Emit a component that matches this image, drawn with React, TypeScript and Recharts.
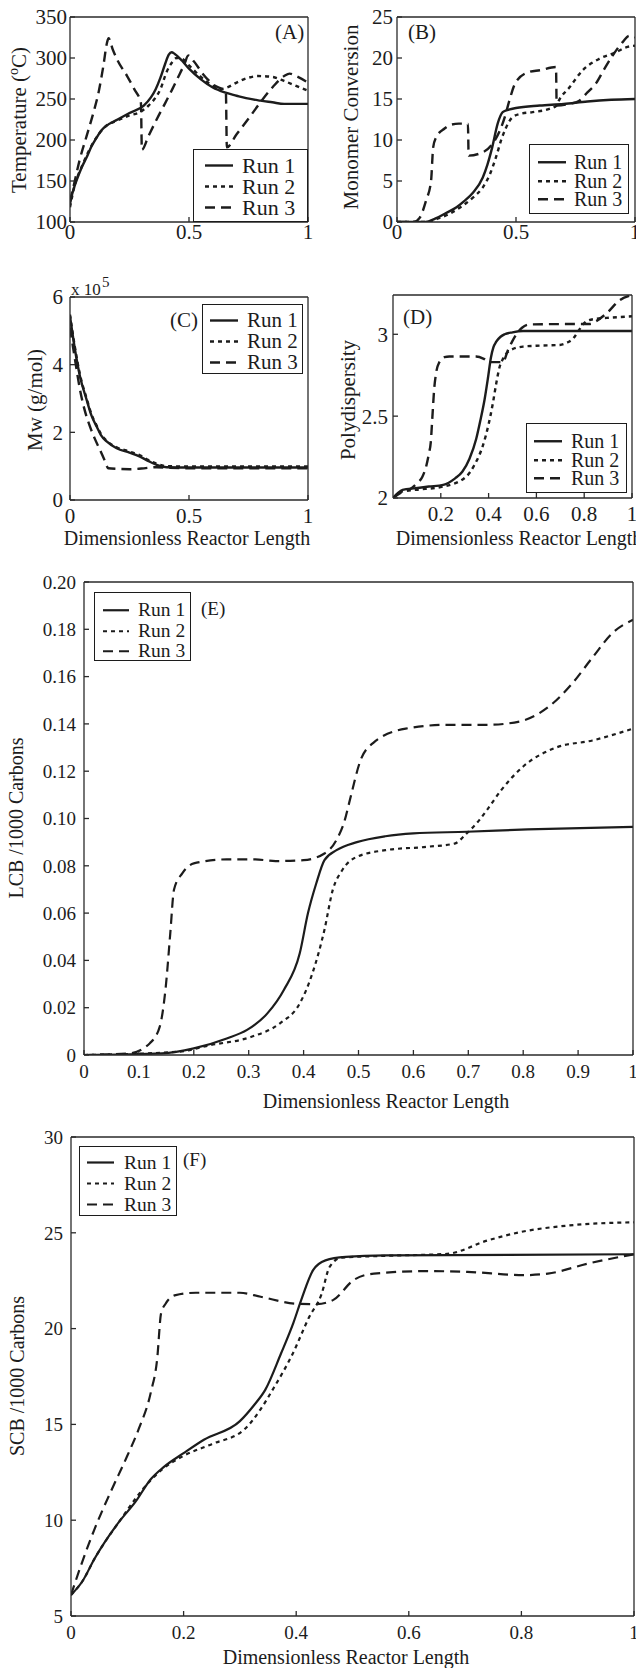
import React from 'react';
import { LineChart, Line, XAxis, YAxis, Legend } from 'recharts';

const FONT = '"Liberation Serif", "Times New Roman", Times, serif';
const INK = '#1c1c1c';

type Pt = [number, number];

// ---- (A) Temperature profile, degC ----
const tempRun1: Pt[] = [[0,122],[0.01,135],[0.028,151],[0.05,167],[0.07,179],[0.09,192],[0.112,203],[0.13,211],[0.147,216],[0.2,225],[0.25,233],[0.31,242],[0.34,252],[0.36,262],[0.38,276],[0.4,293],[0.415,304],[0.427,307],[0.44,305],[0.47,297],[0.5,287],[0.55,274],[0.6,264],[0.65,258],[0.7,254],[0.74,251],[0.8,248],[0.85,246],[0.9,244],[1,244]];
const tempRun2: Pt[] = [[0,118],[0.02,145],[0.05,168],[0.1,198],[0.147,216],[0.2,224],[0.25,230],[0.294,234],[0.33,242],[0.36,252],[0.38,262],[0.406,283],[0.43,295],[0.448,300],[0.47,299],[0.5,291],[0.55,277],[0.6,266],[0.63,262],[0.66,264],[0.7,270],[0.75,276],[0.79,278],[0.85,277],[0.9,272],[0.95,266],[1,260]];
const tempRun3: Pt[] = [[0,125],[0.02,150],[0.04,175],[0.07,205],[0.1,235],[0.12,258],[0.14,290],[0.155,318],[0.162,324],[0.18,310],[0.2,297],[0.24,278],[0.27,262],[0.298,245],[0.302,188],[0.33,205],[0.364,225],[0.4,245],[0.43,262],[0.46,280],[0.48,292],[0.497,303],[0.52,296],[0.56,280],[0.6,268],[0.655,258],[0.659,191],[0.7,207],[0.755,228],[0.8,246],[0.853,265],[0.9,278],[0.923,281],[0.95,278],[1,270]];

// ---- (B) Monomer conversion, % ----
const convRun1: Pt[] = [[0,0],[0.12,0],[0.16,0.4],[0.206,1.1],[0.25,1.8],[0.276,2.4],[0.32,3.6],[0.36,5.4],[0.38,7],[0.4,9.1],[0.423,12],[0.444,13.4],[0.47,13.7],[0.5,13.9],[0.6,14.2],[0.7,14.4],[0.8,14.7],[0.9,14.9],[1,15]];
const convRun2: Pt[] = [[0,0],[0.12,0],[0.17,0.4],[0.22,1.0],[0.276,2.0],[0.32,3.0],[0.36,4.2],[0.39,5.8],[0.416,7.9],[0.44,10.2],[0.458,11.5],[0.486,12.8],[0.52,13.2],[0.57,13.4],[0.64,13.8],[0.67,14.2],[0.68,14.8],[0.724,16.4],[0.78,18.5],[0.85,19.9],[0.92,20.7],[0.962,21.3],[1,21.5]];
const convRun3: Pt[] = [[0,0],[0.07,0],[0.095,0.5],[0.122,2.6],[0.143,5],[0.152,9.1],[0.164,10.3],[0.2,11.4],[0.22,11.8],[0.26,12],[0.298,12],[0.301,8.1],[0.36,8.5],[0.4,9.5],[0.43,11],[0.455,13],[0.472,14.8],[0.5,17.1],[0.556,18.3],[0.6,18.5],[0.668,18.9],[0.671,14.2],[0.724,14.4],[0.766,14.8],[0.8,15.8],[0.836,16.9],[0.87,18.6],[0.906,20.3],[0.95,22],[0.976,22.7],[1,22.5]];

// ---- (C) Weight-average molecular weight, g/mol ----
const mwRun1: Pt[] = [[0,543000],[0.021,444000],[0.042,365000],[0.07,296000],[0.09,250000],[0.112,217000],[0.13,192000],[0.154,173000],[0.196,153000],[0.25,140000],[0.294,128000],[0.33,115000],[0.364,104000],[0.406,97000],[0.5,96000],[0.7,96000],[1,96000]];
const mwRun2: Pt[] = [[0,548000],[0.021,450000],[0.042,370000],[0.07,300000],[0.09,254000],[0.112,220000],[0.13,195000],[0.154,175000],[0.196,156000],[0.25,143000],[0.294,132000],[0.33,118000],[0.364,107000],[0.406,100000],[0.5,99000],[1,99000]];
const mwRun3: Pt[] = [[0,510000],[0.021,415000],[0.042,326000],[0.06,270000],[0.084,217000],[0.105,180000],[0.126,148000],[0.145,118000],[0.161,94000],[0.2,92000],[0.25,91000],[0.3,93000],[0.364,97000],[0.42,95000],[0.5,94000],[1,94000]];

// ---- (D) Polydispersity ----
const pdRun1: Pt[] = [[0,2.0],[0.02,2.03],[0.04,2.05],[0.095,2.06],[0.15,2.07],[0.21,2.08],[0.26,2.12],[0.29,2.16],[0.32,2.24],[0.348,2.36],[0.365,2.47],[0.383,2.6],[0.397,2.73],[0.41,2.86],[0.42,2.92],[0.432,2.955],[0.45,2.985],[0.467,3.0],[0.5,3.012],[0.544,3.02],[0.7,3.02],[1,3.02]];
const pdRun2: Pt[] = [[0,2.0],[0.04,2.04],[0.095,2.05],[0.21,2.07],[0.306,2.13],[0.34,2.2],[0.376,2.32],[0.4,2.45],[0.418,2.58],[0.432,2.7],[0.446,2.8],[0.46,2.85],[0.488,2.9],[0.544,2.925],[0.6,2.93],[0.698,2.935],[0.73,2.95],[0.755,2.976],[0.78,3.03],[0.81,3.08],[0.85,3.095],[0.895,3.1],[1,3.11]];
const pdRun3: Pt[] = [[0,2.0],[0.03,2.03],[0.067,2.05],[0.1,2.09],[0.123,2.13],[0.14,2.2],[0.15,2.27],[0.158,2.34],[0.165,2.5],[0.172,2.66],[0.18,2.76],[0.194,2.83],[0.215,2.86],[0.236,2.864],[0.348,2.864],[0.38,2.85],[0.404,2.83],[0.46,2.83],[0.48,2.9],[0.5,2.96],[0.516,3.0],[0.54,3.04],[0.572,3.06],[0.65,3.062],[0.825,3.063],[0.85,3.08],[0.895,3.13],[0.95,3.21],[1,3.24]];

// ---- (E) Long-chain branching per 1000 C ----
const lcbRun1: Pt[] = [[0,0],[0.142,0.0007],[0.2,0.0028],[0.26,0.007],[0.297,0.0106],[0.334,0.0176],[0.364,0.0275],[0.393,0.043],[0.408,0.06],[0.423,0.0725],[0.438,0.0824],[0.46,0.0866],[0.497,0.09],[0.549,0.0925],[0.6,0.0937],[0.697,0.0944],[0.808,0.0954],[1,0.0965]];
const lcbRun2: Pt[] = [[0,0],[0.172,0.0014],[0.231,0.0042],[0.305,0.0077],[0.357,0.0134],[0.393,0.0218],[0.416,0.0345],[0.438,0.053],[0.453,0.0697],[0.47,0.078],[0.497,0.0838],[0.549,0.0866],[0.623,0.088],[0.675,0.0894],[0.697,0.0937],[0.72,0.0993],[0.734,0.1036],[0.76,0.112],[0.8,0.122],[0.86,0.13],[0.926,0.133],[1,0.138]];
const lcbRun3: Pt[] = [[0,0],[0.083,0.0007],[0.12,0.005],[0.138,0.012],[0.149,0.029],[0.157,0.051],[0.164,0.07],[0.179,0.0768],[0.2,0.081],[0.26,0.0827],[0.312,0.0827],[0.349,0.082],[0.4,0.0824],[0.438,0.0852],[0.46,0.091],[0.475,0.0993],[0.483,0.1066],[0.504,0.1248],[0.527,0.132],[0.586,0.138],[0.66,0.1396],[0.734,0.1396],[0.793,0.141],[0.845,0.147],[0.889,0.157],[0.926,0.168],[0.963,0.1785],[1,0.184]];

// ---- (F) Short-chain branching per 1000 C ----
const scbRun1: Pt[] = [[0,6.1],[0.02,6.8],[0.042,8.0],[0.085,9.9],[0.114,10.94],[0.142,12.15],[0.164,12.76],[0.2,13.5],[0.236,14.2],[0.3,15.17],[0.325,16.0],[0.345,16.8],[0.373,18.7],[0.395,20.3],[0.409,21.5],[0.43,23.05],[0.452,23.56],[0.488,23.74],[0.56,23.82],[1,23.88]];
const scbRun2: Pt[] = [[0,6.1],[0.02,6.8],[0.042,8.0],[0.085,9.9],[0.142,12.1],[0.164,12.7],[0.2,13.36],[0.25,13.97],[0.308,14.74],[0.337,15.8],[0.358,16.8],[0.394,18.7],[0.423,20.6],[0.445,21.8],[0.459,23.2],[0.48,23.7],[0.56,23.8],[0.668,23.9],[0.74,24.6],[0.797,25.03],[0.883,25.38],[1,25.55]];
const scbRun3: Pt[] = [[0,6.1],[0.02,7.83],[0.042,9.55],[0.07,11.45],[0.1,13.36],[0.12,14.74],[0.142,16.7],[0.153,18.4],[0.16,20.8],[0.168,21.3],[0.186,21.75],[0.222,21.87],[0.3,21.87],[0.337,21.66],[0.401,21.3],[0.437,21.28],[0.466,21.5],[0.502,22.53],[0.538,22.87],[0.632,23.0],[0.704,22.96],[0.804,22.79],[0.847,22.87],[0.919,23.4],[1,23.88]];

// ---- axis ticks ----
const ticksHalf = [0, 0.5, 1];
const ticksTenth = [0, 0.1, 0.2, 0.3, 0.4, 0.5, 0.6, 0.7, 0.8, 0.9, 1];
const ticksFifth = [0, 0.2, 0.4, 0.6, 0.8, 1];
const ticksFifthNoZero = [0.2, 0.4, 0.6, 0.8, 1];
const tempTicks = [100, 150, 200, 250, 300, 350];
const convTicks = [0, 5, 10, 15, 20, 25];
const mwTicks = [0, 200000, 400000, 600000];
const pdTicks = [2, 2.5, 3];
const lcbTicks = [0, 0.02, 0.04, 0.06, 0.08, 0.1, 0.12, 0.14, 0.16, 0.18, 0.2];
const scbTicks = [5, 10, 15, 20, 25, 30];

const runNames = ['Run 1', 'Run 2', 'Run 3'];
const runDash = ['0', '4 4', '10 6'];

const toRows = (pts: Pt[]) => pts.map(([x, y]) => ({ x, y }));

type Mark = { x: number; y: number; text: string; fs: number };

const MarkLayer = ({ marks }: { marks: Mark[] }) => (
  <g>
    {marks.map((m, i) => (
      <text key={i} x={m.x} y={m.y} fontSize={m.fs} fill={INK} fontFamily={FONT}>
        {m.text}
      </text>
    ))}
  </g>
);

// Axis titles carry their own anchor point in `at`, so positions injected by the axis are ignored.
const YTitle = ({ at, size, children }: any) => (
  <text
    x={at[0]}
    y={at[1]}
    transform={`rotate(-90 ${at[0]} ${at[1]})`}
    textAnchor="middle"
    fontSize={size}
    fill={INK}
    fontFamily={FONT}
  >
    {children}
  </text>
);

const XTitle = ({ at, size, children }: any) => (
  <text x={at[0]} y={at[1]} textAnchor="middle" fontSize={size} fill={INK} fontFamily={FONT}>
    {children}
  </text>
);

type LegendCfg = { x: number; y: number; w: number; h: number; padTop: number; rowH: number; sx: number; sl: number; tx: number; fs: number };

const LegendBox = ({ payload, cfg, lw }: { payload?: any[]; cfg: LegendCfg; lw: number }) => (
  <div
    style={{
      width: cfg.w,
      height: cfg.h,
      boxSizing: 'border-box',
      border: `1.3px solid ${INK}`,
      background: '#fff',
      paddingTop: cfg.padTop,
      position: 'relative',
    }}
  >
    {(payload ?? []).map((p: any, i: number) => {
      const k = Math.max(0, runNames.indexOf(p.value));
      return (
        <div key={i} style={{ height: cfg.rowH, position: 'relative' }}>
          <svg style={{ position: 'absolute', left: cfg.sx - 1, top: 0 }} width={cfg.sl} height={cfg.rowH}>
            <line x1={0} x2={cfg.sl} y1={cfg.rowH / 2} y2={cfg.rowH / 2} stroke={INK} strokeWidth={lw} strokeDasharray={runDash[k]} />
          </svg>
          <span
            style={{
              position: 'absolute',
              left: cfg.tx - 1,
              top: 0,
              lineHeight: `${cfg.rowH}px`,
              fontSize: cfg.fs,
              fontFamily: FONT,
              color: INK,
              whiteSpace: 'nowrap',
            }}
          >
            {p.value}
          </span>
        </div>
      );
    })}
  </div>
);

type PanelProps = {
  box: [number, number, number, number];
  plot: [number, number, number, number];
  xTicks: number[];
  xFmt?: (v: number) => string;
  yDomain: [number, number];
  yTicks: number[];
  yFmt?: (v: number) => string;
  runs: Pt[][];
  tickFs: number;
  tmX: number;
  tmY: number;
  lw: number;
  yTitle: React.ReactElement;
  xTitle?: React.ReactElement;
  marks: Mark[];
  legend: LegendCfg;
};

const AX = { stroke: '#2a2a2a', strokeWidth: 1.3 };

function Panel(p: PanelProps) {
  const [bx, by, bw, bh] = p.box;
  const [pl, pt, pr, pb] = p.plot;
  const yW = pl - bx;
  const mTop = pt - by;
  const mRight = bx + bw - pr;
  const xH = by + bh - pb;
  const tickStyle = { fill: INK, fontSize: p.tickFs, fontFamily: FONT };
  return (
    <div style={{ position: 'absolute', left: bx, top: by, width: bw, height: bh, fontFamily: FONT }}>
      <LineChart width={bw} height={bh} margin={{ top: mTop - 1, right: mRight - 1, bottom: 0, left: 0 }}>
        <XAxis
          xAxisId="b"
          type="number"
          dataKey="x"
          domain={[0, 1]}
          allowDataOverflow
          ticks={p.xTicks}
          interval={0}
          tickFormatter={p.xFmt ?? ((v: number) => String(v))}
          height={xH}
          tickSize={-5}
          tickMargin={p.tmX}
          tick={tickStyle}
          axisLine={AX}
          tickLine={AX}
          label={p.xTitle}
        />
        <XAxis
          xAxisId="t"
          orientation="top"
          type="number"
          domain={[0, 1]}
          allowDataOverflow
          ticks={p.xTicks}
          interval={0}
          height={1}
          tickSize={-5}
          tick={false}
          axisLine={AX}
          tickLine={AX}
          label={<MarkLayer marks={p.marks} />}
        />
        <YAxis
          yAxisId="l"
          type="number"
          domain={p.yDomain}
          allowDataOverflow
          ticks={p.yTicks}
          interval={0}
          tickFormatter={p.yFmt ?? ((v: number) => String(v))}
          width={yW}
          tickSize={-5}
          tickMargin={p.tmY}
          tick={tickStyle}
          axisLine={AX}
          tickLine={AX}
          label={p.yTitle}
        />
        <YAxis
          yAxisId="r"
          orientation="right"
          type="number"
          domain={p.yDomain}
          allowDataOverflow
          ticks={p.yTicks}
          interval={0}
          width={1}
          tickSize={-5}
          tick={false}
          axisLine={AX}
          tickLine={AX}
        />
        {p.runs.map((run, i) => (
          <Line
            key={runNames[i]}
            name={runNames[i]}
            xAxisId="b"
            yAxisId="l"
            data={toRows(run)}
            dataKey="y"
            type="monotone"
            stroke={INK}
            strokeWidth={p.lw}
            strokeDasharray={runDash[i]}
            dot={false}
            activeDot={false}
            isAnimationActive={false}
            legendType="line"
          />
        ))}
        <Legend
          layout="horizontal"
          verticalAlign="middle"
          align="center"
          wrapperStyle={{ left: p.legend.x, top: p.legend.y, width: p.legend.w, height: p.legend.h }}
          content={(props: any) => <LegendBox payload={props.payload} cfg={p.legend} lw={p.lw} />}
        />
      </LineChart>
    </div>
  );
}

const fmtTenth = (v: number) => (v === 0 || v === 1 ? String(v) : v.toFixed(1));

export default function App() {
  return (
    <div style={{ position: 'absolute', left: 0, top: 0, width: 636, height: 1668, overflow: 'hidden', background: '#fff' }}>
      {/* (A) temperature */}
      <Panel
        box={[0, 0, 316, 250]}
        plot={[70, 17, 308, 222]}
        xTicks={ticksHalf}
        yDomain={[100, 350]}
        yTicks={tempTicks}
        runs={[tempRun1, tempRun2, tempRun3]}
        tickFs={21}
        tmX={7}
        tmY={8}
        lw={2.4}
        yTitle={
          <YTitle at={[26, 120]} size={21}>
            Temperature (<tspan fontSize={14} dy={-8}>o</tspan>
            <tspan dy={8}>C)</tspan>
          </YTitle>
        }
        marks={[{ x: 275, y: 39, text: '(A)', fs: 21 }]}
        legend={{ x: 193, y: 149, w: 115, h: 73, padTop: 5, rowH: 21, sx: 12, sl: 28, tx: 49, fs: 22 }}
      />
      {/* (B) monomer conversion */}
      <Panel
        box={[316, 0, 320, 250]}
        plot={[397, 17, 635, 222]}
        xTicks={ticksHalf}
        yDomain={[0, 25]}
        yTicks={convTicks}
        runs={[convRun1, convRun2, convRun3]}
        tickFs={21}
        tmX={7}
        tmY={9}
        lw={2.4}
        yTitle={
          <YTitle at={[42, 117]} size={21}>
            Monomer Conversion
          </YTitle>
        }
        marks={[{ x: 92, y: 39, text: '(B)', fs: 21 }]}
        legend={{ x: 213, y: 144, w: 100, h: 70, padTop: 8, rowH: 18.5, sx: 9, sl: 28, tx: 45, fs: 20 }}
      />
      {/* (C) Mw */}
      <Panel
        box={[0, 250, 316, 300]}
        plot={[70, 297, 308, 500]}
        xTicks={ticksHalf}
        yDomain={[0, 600000]}
        yTicks={mwTicks}
        yFmt={(v: number) => String(v / 100000)}
        runs={[mwRun1, mwRun2, mwRun3]}
        tickFs={21}
        tmX={13}
        tmY={12}
        lw={2.4}
        yTitle={
          <YTitle at={[42, 150]} size={21}>
            Mw (g/mol)
          </YTitle>
        }
        xTitle={
          <XTitle at={[187, 295]} size={20}>
            Dimensionless Reactor Length
          </XTitle>
        }
        marks={[
          { x: 170, y: 77, text: '(C)', fs: 21 },
          { x: 71, y: 45, text: 'x 10', fs: 17 },
          { x: 102, y: 37, text: '5', fs: 15 },
        ]}
        legend={{ x: 202, y: 54, w: 101, h: 70, padTop: 5, rowH: 21, sx: 8, sl: 28, tx: 45, fs: 21 }}
      />
      {/* (D) polydispersity */}
      <Panel
        box={[316, 250, 320, 300]}
        plot={[393, 295, 632, 498]}
        xTicks={ticksFifthNoZero}
        yDomain={[2, 3.24]}
        yTicks={pdTicks}
        runs={[pdRun1, pdRun2, pdRun3]}
        tickFs={21}
        tmX={13}
        tmY={10}
        lw={2.4}
        yTitle={
          <YTitle at={[39, 150]} size={21}>
            Polydispersity
          </YTitle>
        }
        xTitle={
          <XTitle at={[203, 295]} size={20}>
            Dimensionless Reactor Length
          </XTitle>
        }
        marks={[{ x: 87, y: 74, text: '(D)', fs: 21 }]}
        legend={{ x: 210, y: 173, w: 101, h: 70, padTop: 8, rowH: 18.5, sx: 8, sl: 28, tx: 45, fs: 20 }}
      />
      {/* (E) LCB */}
      <Panel
        box={[0, 560, 636, 560]}
        plot={[84, 582, 633, 1055]}
        xTicks={ticksTenth}
        xFmt={fmtTenth}
        yDomain={[0, 0.2]}
        yTicks={lcbTicks}
        yFmt={(v: number) => (v === 0 ? '0' : v.toFixed(2))}
        runs={[lcbRun1, lcbRun2, lcbRun3]}
        tickFs={19}
        tmX={15}
        tmY={13}
        lw={2.2}
        yTitle={
          <YTitle at={[23, 258]} size={20}>
            LCB /1000 Carbons
          </YTitle>
        }
        xTitle={
          <XTitle at={[386, 548]} size={20}>
            Dimensionless Reactor Length
          </XTitle>
        }
        marks={[{ x: 201, y: 55, text: '(E)', fs: 19 }]}
        legend={{ x: 94, y: 32, w: 97, h: 69, padTop: 7, rowH: 20.5, sx: 9, sl: 26, tx: 44, fs: 19.5 }}
      />
      {/* (F) SCB */}
      <Panel
        box={[0, 1120, 636, 548]}
        plot={[71, 1137, 634, 1616]}
        xTicks={ticksFifth}
        yDomain={[5, 30]}
        yTicks={scbTicks}
        runs={[scbRun1, scbRun2, scbRun3]}
        tickFs={19}
        tmX={15}
        tmY={13}
        lw={2.2}
        yTitle={
          <YTitle at={[24, 256]} size={20}>
            SCB /1000 Carbons
          </YTitle>
        }
        xTitle={
          <XTitle at={[346, 544]} size={20}>
            Dimensionless Reactor Length
          </XTitle>
        }
        marks={[{ x: 183, y: 46, text: '(F)', fs: 19 }]}
        legend={{ x: 79, y: 26, w: 98, h: 70, padTop: 5, rowH: 21, sx: 8, sl: 27, tx: 45, fs: 19.5 }}
      />
    </div>
  );
}
